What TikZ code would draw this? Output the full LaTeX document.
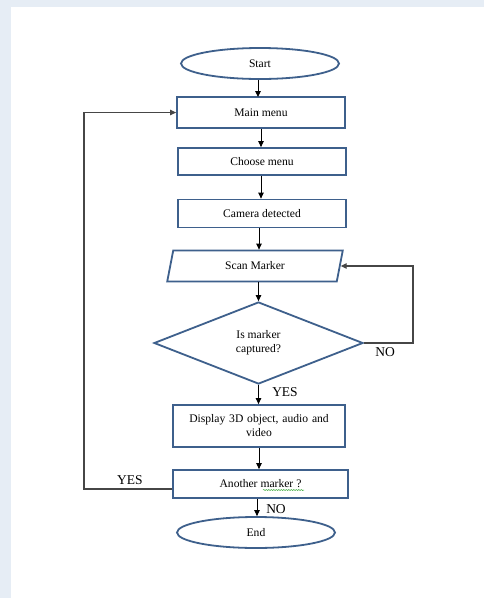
\documentclass[tikz,border=0pt]{standalone}
\usepackage{fontspec}
\setmainfont{Liberation Serif}
\usetikzlibrary{shapes.geometric,arrows.meta,decorations.pathmorphing}
\definecolor{boxblue}{RGB}{62,96,140}
\definecolor{bgblue}{RGB}{230,237,245}
\definecolor{loopgray}{RGB}{70,70,70}
\definecolor{spellgreen}{RGB}{60,170,60}
\tikzset{
  base/.style={draw=boxblue, line width=1.8pt, inner sep=0pt, align=center,
    font=\fontsize{11.6}{14}\selectfont, text=black},
  procbox/.style={base, rectangle},
  termbox/.style={base, ellipse, minimum width=158pt, minimum height=31pt},
  iobox/.style={base, trapezium, trapezium left angle=75, trapezium right angle=105,
    trapezium stretches=true, minimum width=176pt, minimum height=31pt},
  decbox/.style={base, diamond, minimum width=209pt, minimum height=82pt},
  arr/.style={draw=black, line width=0.9pt, -{Triangle[length=6pt,width=5.5pt]}},
  looparr/.style={draw=loopgray, line width=1.1pt, -{Triangle[length=6pt,width=5.5pt]}},
  lbl/.style={font=\fontsize{13.5}{15}\selectfont, inner sep=0pt}
}
\begin{document}
\begin{tikzpicture}[x=1pt,y=-1pt]
\fill[bgblue] (0,0) rectangle (484,598);
\fill[white] (11,7) rectangle (484,598);
\useasboundingbox (0,0) rectangle (484,598);

\node[termbox] (start) at (260,63.5) {Start};
\node[procbox, minimum width=168pt, minimum height=31pt] (main) at (261,112.5) {Main menu};
\node[procbox, minimum width=168pt, minimum height=27pt] (choose) at (262,161.5) {Choose menu};
\node[procbox, minimum width=168pt, minimum height=28pt] (camera) at (262,213.5) {Camera detected};
\node[iobox] (scan) at (255,266) {Scan Marker};
\node[decbox] (dec) at (258.5,343) {Is marker\\captured?};
\node[procbox, minimum width=172pt, minimum height=42pt, text width=162pt] (disp) at (259,426) {Display 3D object, audio and\\video};
\node[procbox, minimum width=175pt, minimum height=28pt] (another) at (260.5,484) {Another marker ?};
\node[termbox] (end) at (256,532.5) {End};

\draw[spellgreen, line width=0.5pt, decorate, decoration={snake, amplitude=0.6pt, segment length=2.5pt}] (263,490) -- (304,490);

\draw[arr] (start.south -| 258,0) -- (258,97);
\draw[arr] (main.south) -- (choose.north -| main.south);
\draw[arr] (choose.south -| 261,0) -- (camera.north -| 261,0);
\draw[arr] (camera.south -| 259,0) -- (scan.north -| 259,0);
\draw[arr] (scan.south -| 258.5,0) -- (dec.north);
\draw[arr] (dec.south) -- (disp.north -| dec.south);
\draw[arr] (disp.south -| 259,0) -- (another.north -| 259,0);
\draw[arr] (another.south -| 257,0) -- (end.north -| 257,0);

\coordinate (nr) at (413,343);
\draw[looparr] (dec.east) -- (nr) |- (scan.east);
\coordinate (nl) at (84,489);
\draw[looparr] (another.west |- nl) -- (nl) |- (main.west);

\node[lbl] (yes1) at (285,392) {YES};
\node[lbl] (no1) at (385,352) {NO};
\node[lbl] (no2) at (276,509) {NO};
\node[lbl] (yes2) at (130,480) {YES};
\end{tikzpicture}
\end{document}
